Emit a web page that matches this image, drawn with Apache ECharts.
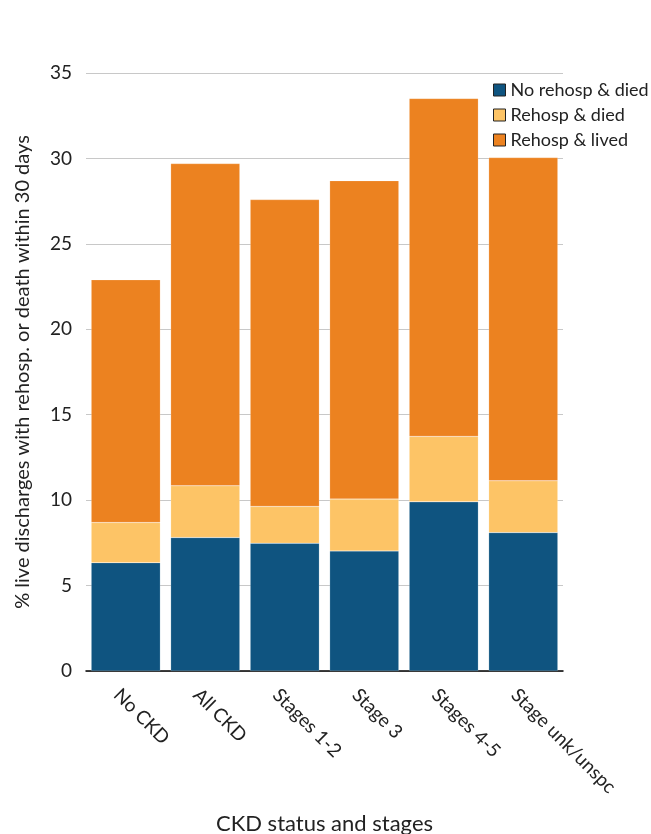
<!DOCTYPE html>
<html><head><meta charset="utf-8">
<script src="https://cdn.jsdelivr.net/npm/echarts@6/dist/echarts.min.js"></script>
<style>html,body{margin:0;padding:0;background:#fff;overflow:hidden}#c{width:651px;height:834px}</style>
</head><body><div id="c"></div>
<script>
const categories = ["No CKD","All CKD","Stages 1-2","Stage 3","Stages 4-5","Stage unk/unspc"];
const noRehospDied = [6.34, 7.81, 7.48, 7.03, 9.90, 8.10];
const rehospDied = [2.35, 3.03, 2.15, 3.03, 3.83, 3.03];
const rehospLived = [14.21, 18.86, 17.96, 18.64, 19.78, 18.92];
const yTicks = [0,5,10,15,20,25,30,35];

const FONT = "Lato";
const chart = echarts.init(document.getElementById('c'), null, {renderer:'canvas'});
function s(name, data, color){
  return {name, type:'bar', stack:'t', data, barCategoryGap:'13%',
    itemStyle:{color, borderColor:'rgba(255,255,255,0.35)', borderWidth:0.5}};
}
chart.setOption({
  animation:false,
  textStyle:{fontFamily:FONT},
  grid:{left:86, right:88, top:73, bottom:163, containLabel:false, outerBoundsMode:'none'},
  legend:{left:488, top:76, orient:'vertical', itemGap:7, itemWidth:12, itemHeight:12,
    icon:'rect', textStyle:{fontFamily:FONT, fontSize:18, lineHeight:18, color:'#222'},
    itemStyle:{borderColor:'#222', borderWidth:1},
    data:['No rehosp & died','Rehosp & died','Rehosp & lived']},
  xAxis:{type:'category', data:categories,
    name:'CKD status and stages', nameLocation:'middle', nameGap:142,
    nameTextStyle:{fontFamily:FONT, fontSize:22, color:'#222'},
    axisLine:{lineStyle:{color:'#000', width:1.5}}, axisTick:{show:false},
    axisLabel:{rotate:-45, fontFamily:FONT, fontSize:19, color:'#222', margin:12, interval:0,
      verticalAlign:'top', padding:[3,0,0,0]}},
  yAxis:{type:'value', min:yTicks[0], max:yTicks[yTicks.length-1], interval:5,
    name:'% live discharges with rehosp. or death within 30 days', nameLocation:'middle', nameGap:53,
    nameTextStyle:{fontFamily:FONT, fontSize:20, color:'#222'},
    axisLine:{show:false}, axisTick:{show:false},
    axisLabel:{fontFamily:FONT, fontSize:19, color:'#222', margin:14},
    splitLine:{lineStyle:{color:'#c8c8c8', width:1.2}}},
  series:[
    s('No rehosp & died', noRehospDied, '#0f5480'),
    s('Rehosp & died', rehospDied, '#fdc466'),
    s('Rehosp & lived', rehospLived, '#ec8220')
  ]
});
</script></body></html>
